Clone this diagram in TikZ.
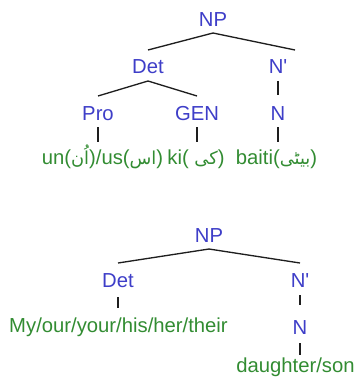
\documentclass[tikz,border=0pt]{standalone}
\usepackage{fontspec}
\setmainfont{Liberation Sans}[Ligatures=TeXOff]
\newfontfamily\urdufont[Script=Arabic,Scale=0.88]{DejaVu Sans}
\TeXXeTstate=1
\usetikzlibrary{calc}
\newcommand{\urdutext}[1]{{\urdufont\beginR #1\endR}}
\definecolor{catblue}{RGB}{62,62,200}
\definecolor{wordgreen}{RGB}{50,140,50}
\definecolor{edgegray}{RGB}{30,30,30}
\tikzset{
  cat/.style={anchor=base, inner sep=0pt, text=catblue,
    font=\fontsize{15.2}{18}\selectfont},
  word/.style={anchor=base, inner sep=0pt, text=wordgreen,
    font=\fontsize{15.2}{18}\selectfont},
  branch/.style={draw=edgegray, line width=1pt},
}
\begin{document}
\begin{tikzpicture}[x=0.75pt, y=-0.75pt]
  \useasboundingbox (0,0) rectangle (360,378);

  % Urdu phrase tree
  \node[cat] (np1)  at (213,27)  {NP};
  \node[cat] (det1) at (148,74)  {Det};
  \node[cat] (nb1)  at (278,74)  {N'};
  \node[cat] (pro)  at (98,120)  {Pro};
  \node[cat] (gen)  at (197,120) {GEN};
  \node[cat] (n1)   at (278,120) {N};
  \node[word] (w1) at (102.5,164) {un(\urdutext{اُن})/us(\urdutext{اس})};
  \node[word] (w2) at (196,164) {ki( \urdutext{کی})};
  \node[word] (w3) at (276.5,164) {baiti(\urdutext{بیٹی})};

  \draw[branch] ($(np1.base)+(0,6)$) -- ($(det1.base)+(0,-24)$);
  \draw[branch] ($(np1.base)+(0,6)$) -- ($(nb1.base)+(17,-24)$);
  \draw[branch] ($(det1.base)+(0,7)$) -- ($(pro.base)+(0,-24)$);
  \draw[branch] ($(det1.base)+(0,7)$) -- ($(gen.base)+(0,-24)$);
  \draw[branch] ($(nb1.base)+(0,7)$) -- ($(n1.base)+(0,-25)$);
  \draw[branch] ($(pro.base)+(0,7)$) -- (pro.base |- {$(w1.base)+(0,-22)$});
  \draw[branch] ($(gen.base)+(0,7)$) -- (gen.base |- {$(w2.base)+(0,-22)$});
  \draw[branch] ($(n1.base)+(0,7)$) -- (n1.base |- {$(w3.base)+(0,-22)$});

  % English phrase tree
  \node[cat] (np2)  at (209,242) {NP};
  \node[cat] (det2) at (118,287) {Det};
  \node[cat] (nb2)  at (300,287) {N'};
  \node[cat] (n2)   at (300,334) {N};
  \node[word] (w4) at (118.5,332) {My/our/your/his/her/their};
  \node[word] (w5) at (295.5,372) {daughter/son};

  \draw[branch] ($(np2.base)+(0,7)$) -- ($(det2.base)+(0,-24)$);
  \draw[branch] ($(np2.base)+(0,7)$) -- ($(nb2.base)+(0,-24)$);
  \draw[branch] ($(det2.base)+(0,10)$) -- (det2.base |- {$(w4.base)+(0,-24)$});
  \draw[branch] ($(nb2.base)+(0,8)$) -- ($(n2.base)+(0,-29)$);
  \draw[branch] ($(n2.base)+(0,9)$) -- (n2.base |- {$(w5.base)+(0,-17)$});
\end{tikzpicture}
\end{document}
